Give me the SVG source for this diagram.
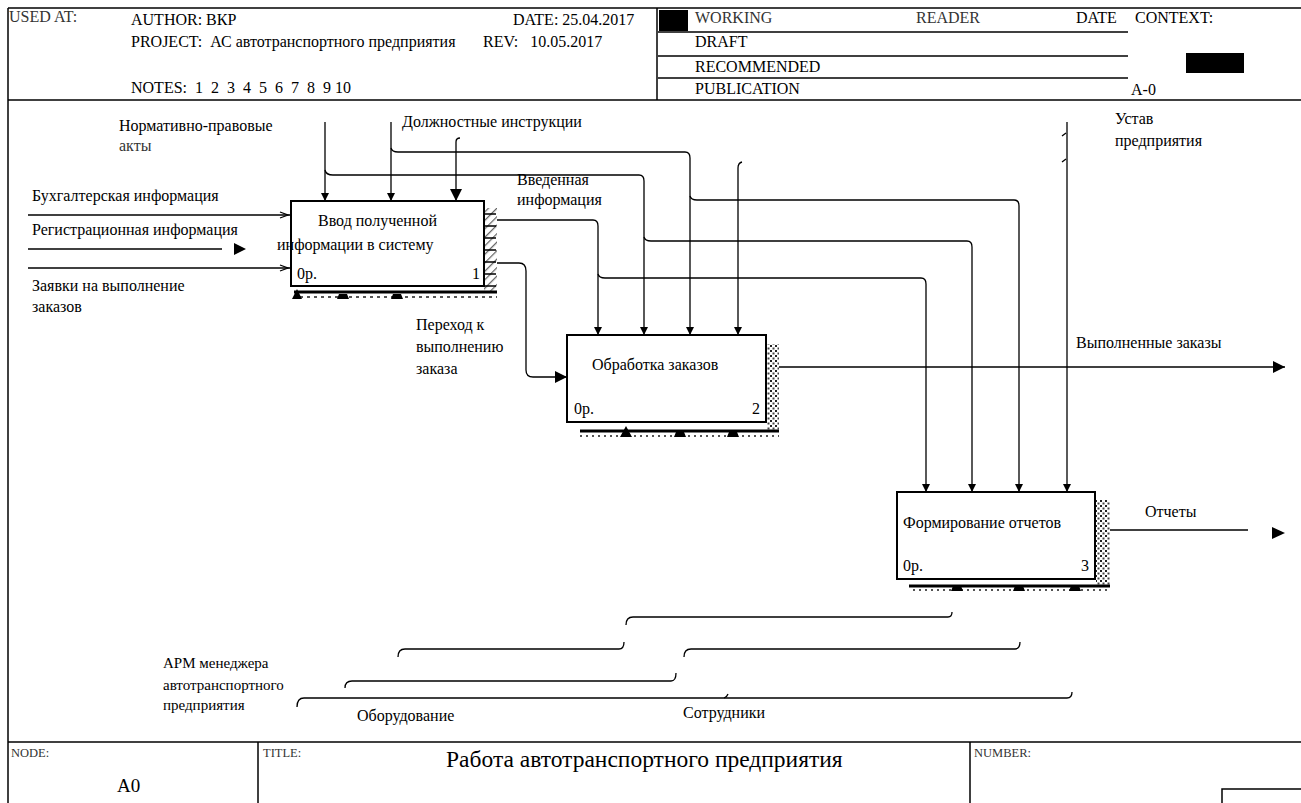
<svg xmlns="http://www.w3.org/2000/svg" width="1301" height="803" viewBox="0 0 1301 803">
<style>
text{font-family:"Liberation Serif","DejaVu Serif","Times New Roman",serif;font-size:16px;fill:#000}
.sm{font-size:12.5px;fill:#333}
.gr{fill:#333}
.ln{stroke:#000;stroke-width:1.3;fill:none}
.bx{stroke:#000;stroke-width:2;fill:#fff}
.fr{stroke:#000;stroke-width:1.5;fill:none}
</style>
<defs>
<pattern id="hatch" width="6" height="6" patternUnits="userSpaceOnUse" patternTransform="rotate(45)">
<rect width="6" height="6" fill="#fff"/>
<line x1="0" y1="0" x2="0" y2="6" stroke="#666" stroke-width="2.5"/>
</pattern>
<pattern id="dots" width="5" height="5" patternUnits="userSpaceOnUse">
<rect width="5" height="5" fill="#fff"/>
<rect x="0" y="0" width="2" height="2" fill="#222"/>
<rect x="2.5" y="2.5" width="2" height="2" fill="#444"/>
</pattern>
<marker id="ar" viewBox="0 0 10 10" refX="10" refY="5" markerWidth="8" markerHeight="8" markerUnits="userSpaceOnUse" orient="auto">
<path d="M0,0 L10,5 L0,10 Z" fill="#000"/>
</marker>
<marker id="arL" viewBox="0 0 10 10" refX="10" refY="5" markerWidth="12" markerHeight="12" markerUnits="userSpaceOnUse" orient="auto">
<path d="M0,0 L10,5 L0,10 Z" fill="#000"/>
</marker>
</defs>

<g id="frame">
<line class="fr" x1="8" y1="8" x2="1301" y2="8"/>
<line class="fr" x1="8" y1="8" x2="8" y2="803"/>
<line class="fr" x1="8" y1="100" x2="1301" y2="100"/>
<line class="fr" x1="8" y1="742" x2="1301" y2="742"/>
<line class="fr" x1="657" y1="8" x2="657" y2="100"/>
<line class="fr" x1="658" y1="32" x2="1128" y2="32"/>
<line class="fr" x1="658" y1="56" x2="1128" y2="56"/>
<line class="fr" x1="658" y1="78" x2="1128" y2="78"/>
<rect x="659" y="10" width="29" height="21" fill="#000"/>
<rect x="1186" y="53" width="58" height="20" fill="#000"/>
<line class="fr" x1="258" y1="742" x2="258" y2="803"/>
<line class="fr" x1="970" y1="742" x2="970" y2="803"/>
<polyline class="fr" points="1222,803 1222,789 1301,789"/>
</g>

<g id="header-text">
<text x="9" y="22" class="gr" style="font-size:16px">USED AT:</text>
<text x="131" y="25">AUTHOR: ВКР</text>
<text x="513" y="25">DATE: 25.04.2017</text>
<text x="131" y="47" xml:space="preserve">PROJECT:  АС автотранспортного предприятия</text>
<text x="483" y="47" xml:space="preserve">REV:   10.05.2017</text>
<text x="131" y="93" xml:space="preserve">NOTES:  1  2  3  4  5  6  7  8  9 10</text>
<text x="695" y="23" class="gr">WORKING</text>
<text x="916" y="23" class="gr">READER</text>
<text x="1076" y="23">DATE</text>
<text x="1135" y="23">CONTEXT:</text>
<text x="695" y="47">DRAFT</text>
<text x="695" y="72">RECOMMENDED</text>
<text x="695" y="94">PUBLICATION</text>
<text x="1131" y="95">A-0</text>
</g>

<g id="footer-text">
<text x="11" y="757" class="sm">NODE:</text>
<text x="117" y="792" style="font-size:19px">A0</text>
<text x="263" y="757" class="sm">TITLE:</text>
<text x="446" y="767" style="font-size:23.5px">Работа автотранспортного предприятия</text>
<text x="974" y="757" class="sm">NUMBER:</text>
</g>

<g id="connectors">
<line class="ln" x1="28" y1="215" x2="290" y2="215"/>
<line class="ln" x1="28" y1="249" x2="222" y2="249"/>
<path d="M234,243 L246,249 L234,255 Z" fill="#000"/>
<line class="ln" x1="28" y1="268" x2="290" y2="268"/>
<path d="M280,212 L288,215 L280,218" class="ln"/>
<path d="M280,265 L288,268 L280,271" class="ln"/>
<line class="ln" x1="325" y1="122" x2="325" y2="201" marker-end="url(#ar)"/>
<line class="ln" x1="391" y1="122" x2="391" y2="201" marker-end="url(#ar)"/>
<path class="ln" d="M460,138 Q456,138 456,142 L456,201" marker-end="url(#arL)"/>
<path class="ln" d="M391,148 Q392,152 398,152 L685,152 Q690,152 690,158 L690,335" marker-end="url(#ar)"/>
<path class="ln" d="M325,170 Q326,175 333,175 L639,175 Q644,175 644,181 L644,335" marker-end="url(#ar)"/>
<path class="ln" d="M484,220 L593,220 Q598,220 598,226 L598,335" marker-end="url(#ar)"/>
<path class="ln" d="M742,162 Q738,163 738,168 L738,335" marker-end="url(#ar)"/>
<path class="ln" d="M690,196 Q691,200 697,200 L1014,200 Q1019,200 1019,206 L1019,492" marker-end="url(#ar)"/>
<path class="ln" d="M644,237 Q645,241 651,241 L967,241 Q972,241 972,247 L972,492" marker-end="url(#ar)"/>
<path class="ln" d="M598,274 Q599,278 605,278 L921,278 Q926,278 926,284 L926,492" marker-end="url(#ar)"/>
<line class="ln" x1="1067" y1="122" x2="1067" y2="492" marker-end="url(#ar)"/>
<path class="ln" d="M1062,136 L1066,133 M1062,162 L1066,159"/>
<path class="ln" d="M484,263 L519,263 Q526,263 526,271 L526,370 Q526,377 533,377 L567,377" marker-end="url(#arL)"/>
<line class="ln" x1="778" y1="367" x2="1285" y2="367" marker-end="url(#arL)"/>
<line class="ln" x1="1082" y1="530" x2="1248" y2="530"/>
<path d="M1272,527 L1285,533 L1272,539 Z" fill="#000"/>
<path class="ln" d="M626,625 Q626,617 633,617 L948,617 Q952,617 952,612"/>
<path class="ln" d="M398,657 Q398,649 405,649 L619,649 Q624,649 624,642"/>
<path class="ln" d="M684,657 Q684,649 691,649 L1015,649 Q1020,649 1020,642"/>
<path class="ln" d="M345,688 Q345,681 352,681 L671,681 Q676,681 676,673"/>
<path class="ln" d="M297,707 Q297,698 304,698 L1067,698 Q1072,698 1072,692"/>
<path class="ln" d="M724,698 Q727,697 728,694"/>
</g>

<g id="box1">
<rect x="484" y="208" width="13" height="84" fill="url(#hatch)"/>
<path d="M485,214 h11 M485,226 h11 M485,238 h11 M485,250 h11 M485,262 h11 M485,274 h11 M485,286 h11" stroke="#000" stroke-width="1.5"/>
<line x1="294" y1="292" x2="497" y2="292" stroke="#000" stroke-width="3"/>
<line x1="300" y1="297" x2="497" y2="297" stroke="#555" stroke-width="2" stroke-dasharray="3,4"/>
<path d="M292,299 L297,289 L302,299 Z M337,299 L349,299 L347,294 L339,294 Z M391,299 L403,299 L401,294 L393,294 Z" fill="#000"/>
<rect class="bx" x="291" y="201" width="193" height="85"/>
<text x="318" y="226">Ввод полученной</text>
<text x="277" y="250">информации в систему</text>
<text x="297" y="279">0р.</text>
<text x="472" y="279">1</text>
</g>

<g id="box2">
<rect x="767" y="344" width="12" height="88" fill="url(#dots)"/>
<line x1="580" y1="431" x2="779" y2="431" stroke="#000" stroke-width="3"/>
<line x1="580" y1="436" x2="779" y2="436" stroke="#555" stroke-width="2" stroke-dasharray="2,4"/>
<path d="M620,437 L626,426 L632,437 Z M674,437 L686,437 L684,432 L676,432 Z M727,437 L739,437 L737,432 L729,432 Z" fill="#000"/>
<rect class="bx" x="567" y="335" width="199" height="87"/>
<text x="592" y="370">Обработка заказов</text>
<text x="574" y="414">0р.</text>
<text x="752" y="414">2</text>
</g>

<g id="box3">
<rect x="1096" y="500" width="14" height="87" fill="url(#dots)"/>
<line x1="909" y1="586" x2="1110" y2="586" stroke="#000" stroke-width="3"/>
<line x1="913" y1="590" x2="1110" y2="590" stroke="#555" stroke-width="2" stroke-dasharray="2,4"/>
<path d="M951,591 L963,591 L961,586 L953,586 Z M1013,591 L1025,591 L1023,586 L1015,586 Z M1069,591 L1081,591 L1079,586 L1071,586 Z" fill="#000"/>
<rect class="bx" x="897" y="492" width="198" height="87"/>
<text x="903" y="528">Формирование отчетов</text>
<text x="903" y="571">0р.</text>
<text x="1081" y="571">3</text>
</g>

<g id="labels">
<text x="119" y="131">Нормативно-правовые</text>
<text x="119" y="151" class="gr">акты</text>
<text x="402" y="127">Должностные инструкции</text>
<text x="32" y="201">Бухгалтерская информация</text>
<text x="32" y="235">Регистрационная информация</text>
<text x="32" y="291">Заявки на выполнение</text>
<text x="32" y="312">заказов</text>
<text x="517" y="185">Введенная</text>
<text x="517" y="205">информация</text>
<text x="416" y="330">Переход к</text>
<text x="416" y="352">выполнению</text>
<text x="416" y="374">заказа</text>
<text x="1115" y="124">Устав</text>
<text x="1115" y="146">предприятия</text>
<text x="1076" y="348">Выполненные заказы</text>
<text x="1145" y="517">Отчеты</text>
<text x="163" y="668" style="font-size:15px">АРМ менеджера</text>
<text x="163" y="690" style="font-size:15px">автотранспортного</text>
<text x="163" y="710" style="font-size:15px">предприятия</text>
<text x="357" y="721">Оборудование</text>
<text x="683" y="718">Сотрудники</text>
</g>
</svg>
